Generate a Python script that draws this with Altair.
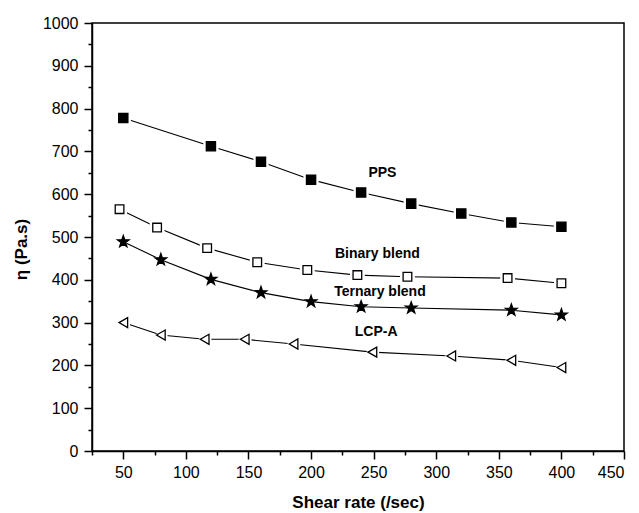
import math
import altair as alt
import pandas as pd

# ---- data ----
series_names = ["PPS", "Binary blend", "Ternary blend", "LCP-A"]
pps_x = [50, 120, 160, 200, 240, 280, 320, 360, 400]
pps_y = [778, 712, 676, 634, 604, 578, 555, 534, 524]
bin_x = [47, 77, 117, 157, 197, 237, 277, 357, 400]
bin_y = [565, 522, 474, 441, 423, 411, 407, 404, 392]
ter_x = [50, 80, 120, 160, 200, 240, 280, 360, 400]
ter_y = [489, 447, 401, 370, 349, 337, 334, 329, 318]
lcp_x = [50, 80, 115, 147, 186, 249, 312, 360, 400]
lcp_y = [300, 271, 261, 261, 250, 231, 222, 212, 195]

label_text = ["PPS", "Binary blend", "Ternary blend", "LCP-A"]
label_x = [257, 253, 255, 252]
label_y = [649, 460, 372, 277]

x_ticks = list(range(25, 451, 25))
y_ticks = list(range(0, 1001, 50))

# ---- star path for the ternary blend markers ----
pts = []
for i in range(10):
    r = 1.0 if i % 2 == 0 else 0.4
    a = -math.pi / 2 + i * math.pi / 5
    pts.append((r * math.cos(a), r * math.sin(a)))
star = "M" + " L".join(f"{px:.3f},{py:.3f}" for px, py in pts) + " Z"

FONT = "Liberation Sans"

x_enc = alt.X(
    "x:Q",
    scale=alt.Scale(domain=[25, 450], nice=False, zero=False),
    axis=alt.Axis(
        values=x_ticks,
        labelExpr="datum.value % 50 === 0 ? '' + datum.value : ''",
        tickSize={"condition": {"test": "datum.value % 50 === 0", "value": 8}, "value": 4},
        title="Shear rate (/sec)",
        grid=False,
        labelPadding=5,
        titlePadding=14,
    ),
)
y_enc = alt.Y(
    "y:Q",
    scale=alt.Scale(domain=[0, 1000], nice=False),
    axis=alt.Axis(
        values=y_ticks,
        labelExpr="datum.value % 100 === 0 ? '' + datum.value : ''",
        tickSize={"condition": {"test": "datum.value % 100 === 0", "value": 8}, "value": 4},
        title="η (Pa.s)",
        grid=False,
        labelPadding=6,
        titlePadding=12,
        titleY=226,
    ),
)


def series_layers(xs, ys, shape, size, fill, halo_size):
    d = pd.DataFrame({"x": xs, "y": ys})
    base = alt.Chart(d)
    line = base.mark_line(color="black", strokeWidth=1.1).encode(x=x_enc, y=y_enc)
    halo = base.mark_point(
        shape=shape, size=halo_size, filled=True, fill="white", opacity=1, strokeWidth=0
    ).encode(x=x_enc, y=y_enc)
    mk = base.mark_point(
        shape=shape, size=size, filled=True, fill=fill, stroke="black",
        strokeWidth=1.3, opacity=1
    ).encode(x=x_enc, y=y_enc)
    return [line, halo, mk]


layers = []
layers += series_layers(pps_x, pps_y, "square", 85, "black", 230)
layers += series_layers(bin_x, bin_y, "square", 75, "white", 220)
layers += series_layers(ter_x, ter_y, star, 150, "black", 260)
layers += series_layers(lcp_x, lcp_y, "triangle-left", 100, "white", 240)

labels = alt.Chart(pd.DataFrame({"t": label_text, "x": label_x, "y": label_y})).mark_text(
    font=FONT, fontSize=14, fontWeight="bold", color="black", align="center", baseline="middle"
).encode(x=x_enc, y=y_enc, text="t:N")
layers.append(labels)

chart = (
    alt.layer(*layers)
    .properties(
        width=532,
        height=428,
        autosize=alt.AutoSizeParams(type="none"),
        padding={"left": 84, "top": 15, "right": 5, "bottom": 60},
    )
    .configure_view(stroke="black", strokeWidth=1.5)
    .configure_axis(
        domainColor="black",
        domainWidth=1.5,
        tickColor="black",
        tickWidth=1.5,
        labelFont=FONT,
        labelFontSize=16,
        labelColor="black",
        titleFont=FONT,
        titleFontSize=17,
        titleFontWeight="bold",
        titleColor="black",
    )
)

chart.save("out.html", embed_options={"renderer": "svg", "actions": False})
